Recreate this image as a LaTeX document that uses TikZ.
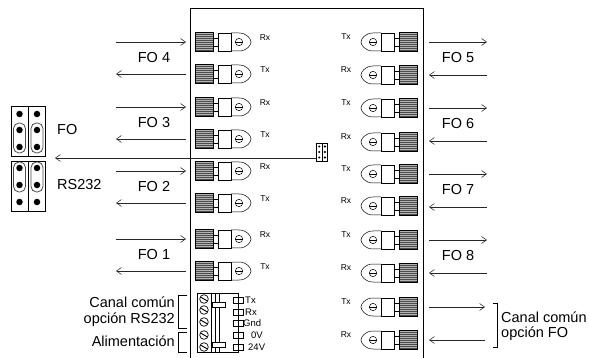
\documentclass[tikz,border=0pt]{standalone}
\usepackage{fontspec}
\setmainfont{Liberation Sans}
\usetikzlibrary{arrows.meta}
\tikzstyle{panel} = [draw=black, line width=0.7pt]
\tikzstyle{thin line} = [draw=black, line width=0.5pt]
\tikzstyle{fibre} = [draw=black!85, line width=0.55pt, -{Straight Barb[length=5pt,width=7pt]}]
\tikzstyle{biglabel} = [font=\fontsize{14.5}{16}\selectfont, inner sep=0pt]
\tikzstyle{portlabel} = [font=\fontsize{8.5}{10}\selectfont, inner sep=0pt]
\tikzstyle{pinlabel} = [font=\fontsize{9.5}{10}\selectfont, inner sep=0pt, anchor=west]
\tikzstyle{dot} = [circle, fill=black, inner sep=0pt, minimum size=6.5pt]
\newcommand{\fibreport}[3]{% x, y, direction
    \begin{scope}[shift={(#1,#2)}, xscale=#3]
        \fill[black!30] (0,-9) rectangle (18,9);
        \foreach \k in {-8,-6,...,8} \draw[black!70, line width=0.5pt] (0,\k) -- (18,\k);
        \draw[thin line] (0,-9.5) rectangle (18,9.5);
        \draw[thin line] (18,-4) -- (23,-4) (18,4) -- (23,4);
        \draw[thin line] (23,-9) rectangle (36,9);
        \draw[thin line] (36,-9) -- (44,-9) .. controls (52,-9) and (56,-3) .. (56,0) .. controls (56,3) and (52,9) .. (44,9) -- (36,9);
        \draw[thin line] (44,0) circle (3.7);
        \draw[thin line] (40.3,0) -- (47.7,0);
    \end{scope}
}
\begin{document}
\begin{tikzpicture}[x=1pt,y=-1pt]
    \useasboundingbox (0,0) rectangle (589,358);
    % panel
    \draw[panel] (190,358) -- (190,8) -- (423,8) -- (423,358);
    % fibre ports
    \foreach \y/\t [count=\i] in {42/Rx,74/Tx,107/Rx,139/Tx,171/Rx,203/Tx,239/Rx,271/Tx}{
        \fibreport{195}{\y}{1}
        \node[portlabel] (lport\i) at (265,\y-4) {\t};
    }
    \foreach \y/\t [count=\i] in {42/Tx,75/Rx,108/Tx,142/Rx,174/Tx,206/Rx,240/Tx,273/Rx,307/Tx,340/Rx}{
        \fibreport{417}{\y}{-1}
        \node[portlabel] (rport\i) at (346,\y-5) {\t};
    }
    % left fibres
    \foreach \y/\t [count=\i] in {42/FO 4,107/FO 3,171/FO 2,239/FO 1}{
        \coordinate (la\i) at (116,\y);
        \coordinate (lb\i) at (186,\y);
        \coordinate (lc\i) at (186,\y+32);
        \coordinate (ld\i) at (116,\y+32);
        \draw[fibre] (la\i) -- (lb\i);
        \draw[fibre] (lc\i) -- (ld\i);
        \node[biglabel] (lfo\i) at (154,\y+16) {\t};
    }
    % right fibres
    \foreach \y/\t [count=\i] in {42/FO 5,108/FO 6,174/FO 7,240/FO 8}{
        \coordinate (ra\i) at (429,\y);
        \coordinate (rb\i) at (487,\y);
        \coordinate (rc\i) at (487,\y+33);
        \coordinate (rd\i) at (429,\y+33);
        \draw[fibre] (ra\i) -- (rb\i);
        \draw[fibre] (rc\i) -- (rd\i);
        \node[biglabel] (rfo\i) at (458,\y+16) {\t};
    }
    \coordinate (cfa) at (429,307);
    \coordinate (cfb) at (485,307);
    \coordinate (cfc) at (485,340);
    \coordinate (cfd) at (429,340);
    \draw[fibre] (cfa) -- (cfb);
    \draw[fibre] (cfc) -- (cfd);
    % selector jumper on the board
    \node[draw=black, minimum width=11pt, minimum height=18pt, inner sep=0pt, line width=0.5pt] (selector) at (322,152) {};
    \foreach \sx in {-2.8,2.8} \foreach \sy in {-5.5,0,5.5}
        \fill (322+\sx,152+\sy) circle (1.2);
    \draw[thin line] (322,143) -- (322,161);
    \coordinate (selend) at (55,158);
    \draw[fibre] (selector.west |- 0,158) -- (selend);
    % FO and RS232 jumpers
    \draw[panel] (11,106) rectangle (28,156) (28,106) rectangle (45,156);
    \draw[panel] (11,161) rectangle (28,211) (28,161) rectangle (45,211);
    \foreach \jx in {19.5,37}{
        \draw[black!70, line width=0.8pt, rounded corners=5.5pt] (\jx-6,123) rectangle (\jx+6,153);
        \draw[black!70, line width=0.8pt, rounded corners=5.5pt] (\jx-6,162) rectangle (\jx+6,192);
        \foreach \jy in {114,130,147,168,185,202}
            \node[dot] at (\jx,\jy) {};
    }
    \node[biglabel, anchor=west] (fotext) at (57,130) {FO};
    \node[biglabel, anchor=west] (rstext) at (57,185) {RS232};
    % terminal block
    \draw[panel] (197,293) rectangle (238,352);
    \draw[thin line] (211,293) -- (211,352);
    \draw[thin line] (215,307) -- (215,342) (219,307) -- (219,342);
    \draw[thin line] (212,302) rectangle (225,307);
    \draw[thin line] (212,342) rectangle (225,347);
    \draw[thin line] (215,293) -- (215,302) (219,293) -- (219,302) (215,347) -- (215,352) (219,347) -- (219,352);
    \foreach \y/\s in {300/299,312/310,323/322,335/335,347/347}{
        \draw[line width=0.7pt] (204,\s) circle (4.3);
        \draw[line width=0.9pt] (200.5,\s-2) -- (207.5,\s+2);
        \draw[line width=0.7pt] (233,\y-3) rectangle (238,\y+3);
        \draw[line width=0.7pt] (238,\y-3) rectangle (243,\y+3);
    }
    \node[pinlabel] (pintx) at (245,300) {Tx};
    \node[pinlabel] (pinrx) at (245,312) {Rx};
    \node[pinlabel] (pingnd) at (243,323) {Gnd};
    \node[pinlabel] (pinzero) at (251,335) {0V};
    \node[pinlabel] (pinpower) at (248,347) {24V};
    % brackets
    \draw[thin line] (187,295) -- (178,295) -- (178,328) -- (187,328);
    \draw[thin line] (187,332) -- (178,332) -- (178,352) -- (187,352);
    \draw[thin line] (493,303) -- (497,303) -- (497,347) -- (493,347);
    \node[biglabel, anchor=east] (canalrs) at (175,302) {Canal común};
    \node[biglabel, anchor=east] (opcionrs) at (175,320) {opción RS232};
    \node[biglabel, anchor=east] (alim) at (175,341) {Alimentación};
    \node[biglabel, anchor=west] (canalfo) at (501,317) {Canal común};
    \node[biglabel, anchor=west] (opcionfo) at (501,334) {opción FO};
\end{tikzpicture}
\end{document}
